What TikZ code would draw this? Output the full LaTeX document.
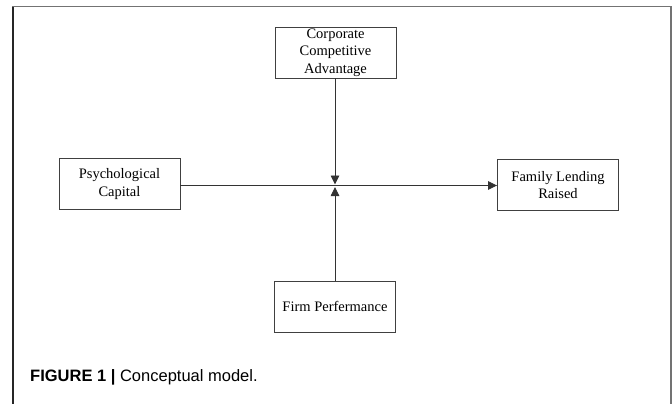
\documentclass[tikz,border=0pt]{standalone}
\usepackage{fontspec}
\setmainfont{Liberation Serif}
\newfontfamily\capfont{Liberation Sans}
\usetikzlibrary{arrows.meta}
\tikzset{
  box/.style={draw=black!75, line width=0.9pt, minimum width=121pt, minimum height=51pt,
    align=center, inner sep=0pt, font=\fontsize{14.5}{17.5}\selectfont},
  link/.style={draw=black!80, line width=0.9pt, -{Triangle[length=9pt,width=8.5pt]}}
}
\begin{document}
\begin{tikzpicture}[x=1pt,y=-1pt]
    \useasboundingbox (0,0) rectangle (672,404);
    % Cadre
    \draw[black!55, line width=1.6pt] (13,404) -- (13,6.5) -- (671,6.5) -- (671,404);
    \draw[black!85, line width=1.2pt] (13,404) -- (13,7);

    % Boites
    \node[box] (cca) at (335.5,52.5) {Corporate\\Competitive\\Advantage};
    \node[box] (pc) at (119.5,184) {Psychological\\Capital};
    \node[box] (flr) at (558,185) {Family Lending\\Raised};
    \node[box] (fp) at (335,306.5) {Firm Perfermance};

    % Fleches
    \coordinate (mid) at (335,185.5);
    \draw[link] (pc.east |- mid) -- (flr.west |- mid);
    \draw[link] (cca.south -| mid) -- ([yshift=1pt]mid);
    \draw[link] (fp.north -| mid) -- ([yshift=-1.5pt]mid);

    % Legende
    \node[anchor=base west, inner sep=0pt, font=\capfont\fontsize{16.5}{19}\selectfont] (cap) at (30,381)
      {\textbf{FIGURE 1 |} Conceptual model.};
\end{tikzpicture}
\end{document}
